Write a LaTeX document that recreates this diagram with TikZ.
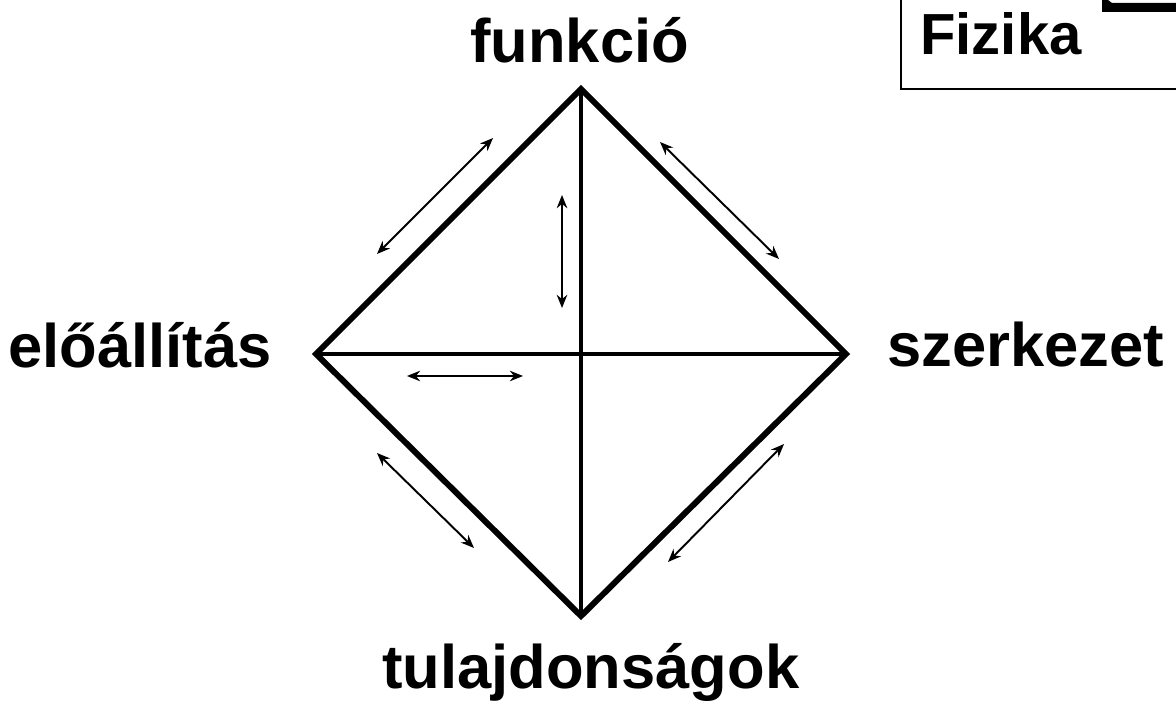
\documentclass[tikz,border=0pt]{standalone}
\usepackage{fontspec}
\setmainfont{Liberation Sans}
\usetikzlibrary{arrows.meta,positioning}
\colorlet{cedge}{black}
\colorlet{crel}{black}
\tikzset{
  lbl/.style={font=\fontsize{35}{40}\selectfont\bfseries, inner sep=0pt, anchor=base west},
  side/.style={line width=3.4pt, line join=miter, cedge},
  cross/.style={line width=2.3pt, cedge},
  rel/.style={line width=1.1pt, crel, {Stealth[length=7.5pt,width=6pt]}-{Stealth[length=7.5pt,width=6pt]}},
}

\begin{document}
\begin{tikzpicture}[x=0.02cm,y=-0.02cm]
  \useasboundingbox (0,0) rectangle (1176,705);
  % corners of the diamond
  \coordinate (top) at (581,89);
  \coordinate (left) at (316,354);
  \coordinate (right) at (846,354);
  \coordinate (bottom) at (581,616);
  \draw[side] (top) -- (right) -- (bottom) -- (left) -- cycle;
  \draw[cross] (top) -- (bottom);
  \draw[cross] (left) -- (right);
  % labels
  \node[lbl] (funkcio) at (470,63) {funkció};
  \node[lbl] (eloallitas) at (8,368) {előállítás};
  \node[lbl] (szerkezet) at (887,367) {szerkezet};
  \node[lbl] (tulajdonsagok) at (382,688) {tulajdonságok};
  % double arrows along the sides
  \coordinate (ul1) at (377,254);
  \coordinate (ul2) at (493,138);
  \coordinate (ur1) at (660,142);
  \coordinate (ur2) at (779,259);
  \coordinate (ll1) at (377,453);
  \coordinate (ll2) at (474,548);
  \coordinate (lr1) at (784,444);
  \coordinate (lr2) at (668,562);
  \coordinate (v1) at (562,195);
  \coordinate (v2) at (562,308);
  \coordinate (h1) at (407,376);
  \coordinate (h2) at (523,376);
  \draw[rel] (ul1) -- (ul2);
  \draw[rel] (ur1) -- (ur2);
  \draw[rel] (ll1) -- (ll2);
  \draw[rel] (lr1) -- (lr2);
  \draw[rel] (v1) -- (v2);
  \draw[rel] (h1) -- (h2);
  % Fizika box, cut by the page edge
  \draw[line width=0.9pt] (901,-5) -- (901,89) -- (1181,89);
  \node[lbl, font=\fontsize{33}{38}\selectfont\bfseries] (fizika) at (920,55) {Fizika};
  \fill (1102,0) -- (1102,12) -- (1181,12) -- (1181,3) -- (1112,3) -- (1108,0) -- cycle;
\end{tikzpicture}
\end{document}
